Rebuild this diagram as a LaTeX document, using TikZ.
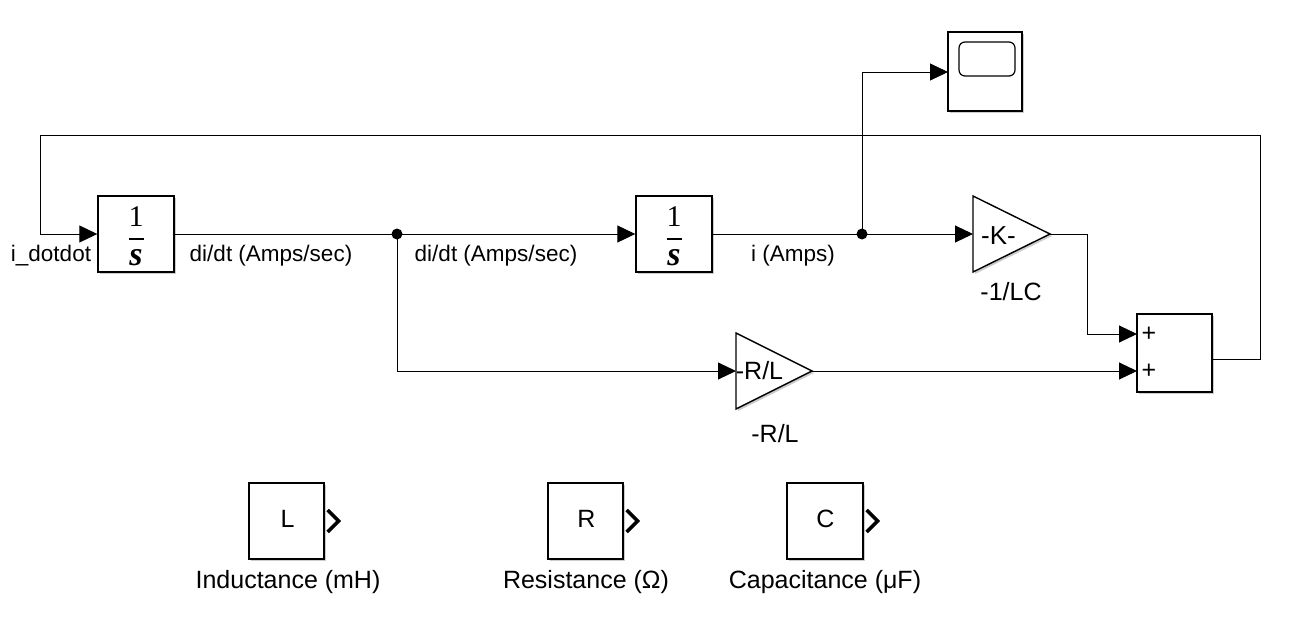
\documentclass[tikz,border=0pt]{standalone}
\usepackage{fontspec}
\setmainfont{Liberation Sans}
\newfontfamily\serifface{Liberation Serif}
\usetikzlibrary{arrows.meta,shadows}
\newcommand\oneovers{\vbox{\hbox to 24pt{\hss\fontsize{30}{30}\selectfont 1\hss}\kern2pt\hbox to 24pt{\hss\vrule width 15pt height 1.8pt\hss}\kern8pt\hbox to 24pt{\hss\fontsize{34}{34}\selectfont\bfseries\itshape s\hss}}}
\newcommand\bigtxt[1]{{\fontsize{25}{29}\selectfont #1}}
\begin{document}
\begin{tikzpicture}[x=1pt,y=-1pt,
  shd/.style={drop shadow={shadow xshift=2pt, shadow yshift=-2pt, fill=black!40, opacity=0.5}},
  blk/.style={draw, line width=1.4pt, fill=white, minimum width=76pt, minimum height=76pt, inner sep=0pt, shd},
  sig/.style={line width=1pt, -{Triangle[length=18pt,width=17pt]}},
  wire/.style={line width=1pt},
  lbl/.style={font=\fontsize{22.5}{26}\selectfont, inner sep=0pt, anchor=base},
  nlbl/.style={font=\fontsize{25}{29}\selectfont, inner sep=0pt, anchor=base},
  intxt/.style={font=\fontsize{25}{29}\selectfont, inner sep=0pt},
  jdot/.style={circle, fill=black, minimum size=11pt, inner sep=0pt},
  chev/.style={line width=3.5pt, miter limit=10},
  ]
\useasboundingbox (0,0) rectangle (1305,640);

% integrators
\node[blk] (int1) at (136,234) {};
\node[blk] (int2) at (674,234) {};
\node[font=\serifface, inner sep=0pt] (f1) at (136,236) {\oneovers};
\node[font=\serifface, inner sep=0pt] (f2) at (674,236) {\oneovers};

% scope
\node[blk, minimum width=74pt, minimum height=79pt] (scope) at (985,71.5) {};
\draw[line width=1.2pt, rounded corners=6pt] (959,42) rectangle (1015,76);
\coordinate (scopein) at (948,72);

% gains
\path[draw, line width=1.4pt, fill=white, shd] (973,196) -- (973,272) -- (1050,234) -- cycle;
\coordinate (kin) at (973,234);
\coordinate (kout) at (1050,234);
\node[intxt, font=\fontsize{26}{30}\selectfont] (ktxt) at (998.5,236) {-K-};
\path[draw, line width=1.4pt, fill=white, shd] (736,333) -- (736,409) -- (812,371) -- cycle;
\coordinate (rin) at (736,371);
\coordinate (rout) at (812,371);
\node[intxt] (rtxt) at (759.5,371) {-R/L};

% sum
\node[blk, minimum width=75pt, minimum height=78pt] (sum) at (1174.5,353) {};
\coordinate (sin1) at (1137,334);
\coordinate (sin2) at (1137,371);
\coordinate (sout) at (1212,359);
\node[intxt] (p1) at (1149,334) {+};
\node[intxt] (p2) at (1149,371) {+};

% junctions
\node[jdot] (j1) at (397,234) {};
\node[jdot] (j2) at (862,234) {};

% connectors
\draw[sig] (sout) -- (1260,359) -- (1260,135) -- (40,135) -- (40,234) -- (int1.west);
\draw[wire] (int1.east) -- (j1.center);
\draw[sig] (j1.center) -- (int2.west);
\draw[sig] (j1.center) -- (397,371) -- (rin);
\draw[wire] (int2.east) -- (j2.center);
\draw[sig] (j2.center) -- (kin);
\draw[sig] (j2.center) -- (862,72) -- (scopein);
\draw[sig] (kout) -- (1087,234) -- (1087,334) -- (sin1);
\draw[sig] (rout) -- (sin2);

% signal labels
\node[lbl] (l1) at (51,261) {i\_dotdot};
\node[lbl] (l2) at (271,261) {di/dt (Amps/sec)};
\node[lbl] (l3) at (496,261) {di/dt (Amps/sec)};
\node[lbl] (l4) at (793,261) {i (Amps)};
\node[nlbl] (l5) at (1011,300) {-1/LC};
\node[nlbl] (l6) at (775,442) {-R/L};

% constants
\node[blk, minimum width=75pt] (cL) at (286.5,521) {};
\node[blk, minimum width=75pt] (cR) at (585.5,521) {};
\node[blk, minimum width=76pt] (cC) at (825,521) {};
\node[inner sep=0pt] (tL) at (287.5,519) {\bigtxt{L}};
\node[inner sep=0pt] (tR) at (586.5,519) {\bigtxt{R}};
\node[inner sep=0pt] (tC) at (825.5,519) {\bigtxt{C}};
\foreach \n in {cL,cR,cC}{
  \draw[chev] ([xshift=3pt,yshift=11pt]\n.east) -- ([xshift=14pt]\n.east) -- ([xshift=3pt,yshift=-11pt]\n.east);
}
\node[nlbl] (nL) at (288,588) {Inductance (mH)};
\node[nlbl] (nR) at (586,588) {Resistance (Ω)};
\node[nlbl] (nC) at (825,588) {Capacitance (μF)};
\end{tikzpicture}
\end{document}
